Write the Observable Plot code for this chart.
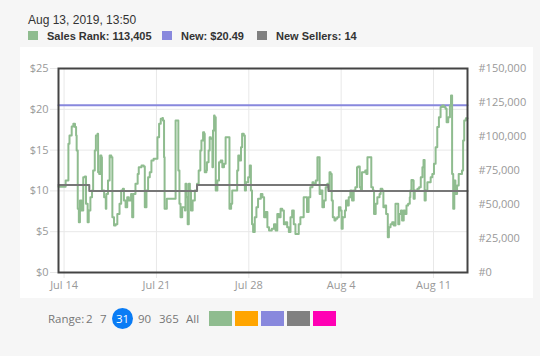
<!DOCTYPE html>
<html><head><meta charset="utf-8">
<script src="https://cdn.jsdelivr.net/npm/d3@7"></script>
<script src="https://cdn.jsdelivr.net/npm/@observablehq/plot@0.6"></script>
<style>
body{margin:0;background:#f6f6f6;width:540px;height:356px;overflow:hidden;position:relative;font-family:"Liberation Sans",Arial,sans-serif}
#panel{position:absolute;left:20px;top:47px;width:513px;height:251px;background:#fff}
#chart{position:absolute;left:0;top:0}
#date{position:absolute;left:28px;top:13px;font-size:12px;color:#333;white-space:nowrap}
.lg{position:absolute;top:30px;font-size:11px;font-weight:bold;color:#333;white-space:nowrap;line-height:12px}
.lg i{position:absolute;left:0;top:1px;width:10px;height:9px}
.lg span{position:absolute;left:19px;top:0}
.rg{position:absolute;top:311px;font-family:"Open Sans",sans-serif;font-size:11.5px;color:#777;line-height:16px;white-space:nowrap}
.sel{background:#0a7cf5;color:#fff;border-radius:50%;width:21px;height:21px;line-height:21px;text-align:center;top:308px}
.sw{position:absolute;top:311px;width:23px;height:15px}
</style></head>
<body>
<div id="panel"></div>
<div id="chart"></div>
<div id="date"></div>
<div id="legend"></div>
<div id="range"></div>
<script>
const headerDate = "Aug 13, 2019, 13:50";
const legendLabels = ["Sales Rank: 113,405", "New: $20.49", "New Sellers: 14"];
const legendColors = ["#8fbc8f", "#8888dd", "#808080"];
const rangeOptions = ["2", "7", "31", "90", "365", "All"];
const selectedRange = "31";
const swatchColors = ["#8fbc8f", "#ffa500", "#8888dd", "#808080", "#ff00b4"];

const startTime = new Date(2019, 6, 13, 13, 50);
const endTime = new Date(2019, 7, 13, 13, 50);
const xTickDates = [new Date(2019,6,14), new Date(2019,6,21), new Date(2019,6,28), new Date(2019,7,4), new Date(2019,7,11)];
const priceTicks = [0, 5, 10, 15, 20, 25];
const rankTicks = [0, 25000, 50000, 75000, 100000, 125000, 150000];
const rankPerDollar = 6000;   // #150,000 aligns with $25
const countPerDollar = 1.4;   // count axis 0..35 over $0..$25

// hours since start, sales rank
const rankHours = [0,13,18,20,24,27,30,32,33,35,37,39,42,45,48,50,53,55,58,61,63,66,68,71,72,74,76,78,79,83,86,87,90,93,96,98,101,104,107,111,114,117,119,122,125,128,132,134,136,140,144,146,151,155,157,160,163,166,169,173,180,183,186,189,190,192,193,197,213,218,220,222,225,230,231,233,235,237,239,241,244,248,252,255,258,260,263,265,266,269,270,273,275,277,280,281,283,284,286,289,292,295,298,301,304,311,314,316,325,327,329,332,334,337,339,341,345,348,350,352,354,357,360,363,368,371,374,377,380,383,388,392,395,398,401,404,407,410,413,416,419,422,425,428,431,437,440,446,452,455,458,462,464,468,471,475,477,480,483,486,489,492,493,495,497,499,502,504,507,510,513,515,517,521,523,526,528,531,534,537,540,543,545,548,550,552,558,560,562,569,572,574,577,580,584,586,589,591,594,596,599,601,604,607,610,613,618,620,623,625,628,630,633,636,639,640,642,645,646,648,653,656,659,662,664,666,668,671,677,680,683,686,689,692,695,698,701,704,706,709,712,714,716,718,720,722,725,728,734,736,738,741];
const rankValues = [63000,67600,94600,100700,107300,109300,106900,100700,89700,46800,37000,52900,45600,70100,70500,50500,37000,45600,55400,60300,75000,89700,100700,102000,73800,72500,86000,84800,60300,55400,46800,57800,67600,86000,84800,40700,34600,35500,43100,50500,60300,61500,52900,48000,55400,52900,57800,40700,57800,65200,72500,77400,78600,77900,48000,60300,70100,73800,82400,83600,99500,109300,113000,113600,111700,84800,46800,54200,111700,75000,50500,40700,48000,45600,65200,55400,35500,65200,60300,45600,52900,60300,65200,75000,89700,97100,103200,102000,73800,75000,81100,89700,99500,98300,77400,104400,115400,114200,60300,67600,81100,82400,77400,79900,99500,46800,50500,60300,75000,86000,82400,92100,102000,100700,60300,66400,70100,78600,60300,35500,29700,40700,48000,54200,57800,55400,40700,44400,33300,30900,32100,35500,30900,43100,40700,46800,45600,35500,37000,33300,29700,40700,45600,35500,28400,35500,40700,55400,44400,55400,62700,66400,65200,67600,84800,57800,60300,48000,52900,62700,65200,60300,73800,72500,52900,40700,38300,39500,40700,48000,45600,32100,40700,45600,52900,49200,55400,60300,52900,60300,62700,77400,77900,62700,60300,73800,75000,72500,84800,62700,60300,43100,50500,55400,57800,61500,60300,48000,49200,43100,26000,33300,35500,37000,34600,50500,35500,43100,45600,38300,45600,43100,49200,50500,55400,60300,68100,67600,54200,60300,61500,62700,70100,77400,82800,52900,60300,66400,70100,72500,79900,92100,106900,114200,121600,122800,121600,120400,110500,114200,122800,130100,72500,46800,67600,57800,63900,72500,75000,97100,111700,113405];

const countHours = [0, 56, 252, 491, 744];
const countValues = [15, 14, 15, 14, 14];
const newPriceHours = [0, 744];
const newPriceValues = [20.49, 20.49];

const toDate = h => new Date(+startTime + h * 3600000);
const rankData = rankHours.map((h, i) => ({date: toDate(h), v: rankValues[i] / rankPerDollar}));
rankData.push({date: endTime, v: rankValues[rankValues.length - 1] / rankPerDollar});
const countData = countHours.map((h, i) => ({date: toDate(h), v: countValues[i] / countPerDollar}));
const newData = newPriceHours.map((h, i) => ({date: toDate(h), v: newPriceValues[i]}));

const grid = "#e8e8e8";
const chart = Plot.plot({
  width: 540, height: 300,
  marginLeft: 58, marginRight: 73, marginTop: 68, marginBottom: 28,
  style: {background: "transparent", fontFamily: "'Open Sans', sans-serif", fontSize: "11px", color: "#999"},
  x: {type: "time", domain: [startTime, endTime]},
  y: {domain: [0, 25]},
  marks: [
    Plot.gridY(priceTicks, {stroke: grid, strokeOpacity: 1}),
    Plot.gridX(xTickDates, {stroke: grid, strokeOpacity: 1}),
    Plot.line(newData, {x: "date", y: "v", stroke: "#8888dd", strokeWidth: 2}),
    Plot.line(rankData, {x: "date", y: "v", curve: "step-after", stroke: "#8fbc8f", strokeWidth: 2}),
    Plot.line(countData, {x: "date", y: "v", curve: "step-after", stroke: "#777", strokeWidth: 2}),
    Plot.axisY(priceTicks, {anchor: "left", tickSize: 8, tickPadding: 2, tickFormat: d => "$" + d, stroke: grid, fill: "#999", label: null}),
    Plot.axisY(rankTicks.map(r => r / rankPerDollar), {anchor: "right", tickSize: 0, tickPadding: 11, tickFormat: d => "#" + d3.format(",")(Math.round(d * rankPerDollar)), fill: "#999", label: null}),
    Plot.axisX(xTickDates, {tickSize: 6, tickPadding: 3, tickFormat: d3.timeFormat("%b %-d"), stroke: grid, fill: "#999", label: null}),
    Plot.frame({stroke: "#444", strokeWidth: 2})
  ]
});
document.getElementById("chart").append(chart);

document.getElementById("date").textContent = headerDate;
const legendLeft = [28, 162, 257];
const lg = document.getElementById("legend");
legendLabels.forEach((t, i) => {
  const d = document.createElement("div");
  d.className = "lg"; d.style.left = legendLeft[i] + "px";
  d.innerHTML = `<i style="background:${legendColors[i]}"></i><span>${t}</span>`;
  lg.append(d);
});
const rg = document.getElementById("range");
const addRg = (txt, left, cls) => {const d = document.createElement("div"); d.className = cls || "rg"; d.style.left = left + "px"; d.textContent = txt; rg.append(d); return d;};
addRg("Range:", 48);
const rangeLeft = [86, 100, 112, 138, 159, 186];
rangeOptions.forEach((r, i) => addRg(r, rangeLeft[i], r === selectedRange ? "rg sel" : "rg"));
swatchColors.forEach((c, i) => {const d = document.createElement("div"); d.className = "sw"; d.style.left = (209 + i * 26) + "px"; d.style.background = c; rg.append(d);});
</script>
</body></html>
